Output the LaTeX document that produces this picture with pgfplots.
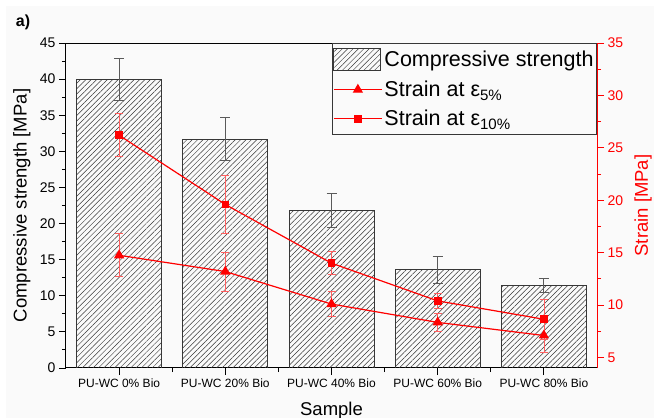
\documentclass[border=0pt]{standalone}
\usepackage{fontspec}
\setmainfont{Liberation Sans}
\usepackage{pgfplots}
\pgfplotsset{compat=1.18}
\usetikzlibrary{patterns.meta}

\definecolor{bargray}{RGB}{55,55,55}
\definecolor{errgray}{RGB}{90,90,90}
\definecolor{errred}{RGB}{255,95,95}

\begin{document}
\begin{tikzpicture}
\useasboundingbox (-66pt,-50pt) rectangle (588pt,368pt);
\fill[white!98!black] (-60pt,-50pt) rectangle (588pt,362pt);
\node[font=\fontsize{16}{18}\selectfont\bfseries] at (-43pt,346pt) {a)};

\begin{axis}[
  scale only axis, width=531pt, height=325pt,
  xmin=0.5, xmax=5.5, ymin=0, ymax=45,
  xtick={1,2,3,4,5},
  xticklabels={PU-WC 0\% Bio, PU-WC 20\% Bio, PU-WC 40\% Bio, PU-WC 60\% Bio, PU-WC 80\% Bio},
  minor xtick={1.5,2.5,3.5,4.5},
  ytick={0,5,...,45}, minor ytick={2.5,7.5,...,42.5},
  xtick pos=bottom, ytick pos=left,
  tick align=outside,
  major tick length=7pt, minor tick length=4pt,
  axis line style={line width=1pt},
  every tick/.style={black, line width=0.9pt},
  /pgf/number format/assume math mode=true,
  xticklabel style={font=\fontsize{12}{14}\selectfont},
  yticklabel style={font=\fontsize{14}{16}\selectfont},
  xlabel={Sample},
  ylabel={Compressive strength [MPa]},
  label style={font=\fontsize{18.5}{21}\selectfont},
  xlabel style={at={(axis description cs:0.5,-0.13)}, anchor=center},
  ylabel style={at={(axis description cs:-0.083,0.5)}, anchor=center},
]
\addplot[ybar, bar width=0.8, draw=bargray, line width=0.8pt,
  pattern={Lines[angle=45,distance=3.8pt,line width=0.5pt]}, pattern color=bargray,
  error bars/.cd, y dir=both, y explicit,
  error bar style={errgray, line width=0.9pt},
  error mark options={rotate=90, errgray, mark size=5pt, line width=0.9pt}]
coordinates {
  (1,40.0) +- (0,2.9)
  (2,31.7) +- (0,3.0)
  (3,21.8) +- (0,2.4)
  (4,13.6) +- (0,1.9)
  (5,11.4) +- (0,1.0)
};
\end{axis}

\begin{axis}[
  scale only axis, width=531pt, height=325pt,
  xmin=0.5, xmax=5.5, ymin=4, ymax=35,
  axis x line=none, axis y line*=right,
  ytick={5,10,...,35}, minor ytick={7.5,12.5,...,32.5},
  tick align=outside,
  major tick length=7pt, minor tick length=4pt,
  y axis line style={red, line width=1pt},
  every tick/.style={red, line width=0.9pt},
  /pgf/number format/assume math mode=true,
  yticklabel style={font=\fontsize{14}{16}\selectfont, text=red},
  ylabel={Strain [MPa]},
  ylabel style={font=\fontsize{18.5}{21}\selectfont, text=red,
    at={(axis description cs:1.087,0.5)}, anchor=center},
  legend style={at={(1,1)}, anchor=north east, draw=bargray, line width=0.8pt,
    fill=white!98!black, font=\fontsize{21.5}{24}\selectfont,
    inner xsep=1pt, inner ysep=5pt, row sep=8pt},
  legend cell align=left,
  legend image code/.code={\draw[mark repeat=2, mark phase=2, #1]
    plot coordinates {(0pt,0pt) (24pt,0pt) (48pt,0pt)};},
]
\addlegendimage{legend image code/.code={\draw[draw=bargray, line width=0.8pt,
    pattern={Lines[angle=45,distance=3.8pt,line width=0.5pt]}, pattern color=bargray]
    (0pt,-11pt) rectangle (47pt,11pt);}}
\addlegendentry{Compressive strength}

\addplot[red, line width=1.2pt, mark=triangle*, mark size=4.8pt, mark options={solid},
  error bars/.cd, y dir=both, y explicit,
  error bar style={errred, line width=0.8pt},
  error mark options={rotate=90, errred, mark size=4pt, line width=0.8pt}]
coordinates {
  (1,14.75) +- (0,2.05)
  (2,13.2)  +- (0,1.85)
  (3,10.1)  +- (0,1.2)
  (4,8.35)  +- (0,0.9)
  (5,7.1)   +- (0,1.6)
};
\addlegendentry{Strain at ε\textsubscript{5\%}}

\addplot[red, line width=1.2pt, mark=square*, mark size=3.2pt, mark options={solid},
  error bars/.cd, y dir=both, y explicit,
  error bar style={errred, line width=0.8pt},
  error mark options={rotate=90, errred, mark size=4pt, line width=0.8pt}]
coordinates {
  (1,26.2) +- (0,2.05)
  (2,19.6) +- (0,2.8)
  (3,14.0) +- (0,1.1)
  (4,10.4) +- (0,0.7)
  (5,8.65) +- (0,1.9)
};
\addlegendentry{Strain at ε\textsubscript{10\%}}
\end{axis}
\end{tikzpicture}
\end{document}
